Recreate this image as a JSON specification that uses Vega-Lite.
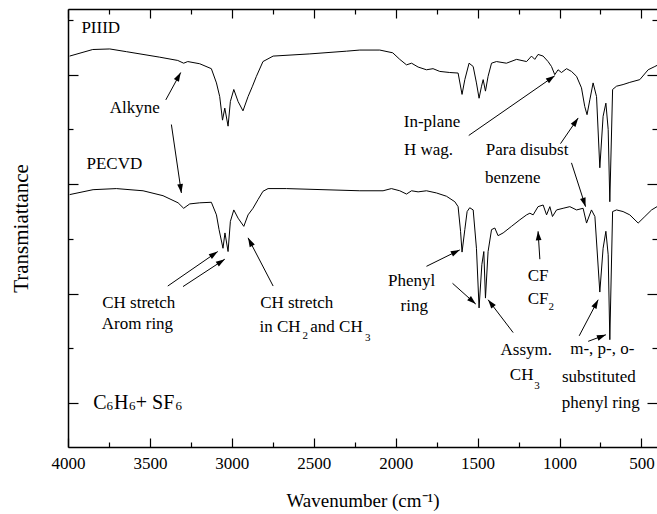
{
  "$schema": "https://vega.github.io/schema/vega-lite/v6.json",
  "width": 589,
  "height": 438,
  "autosize": {"type": "none"},
  "padding": {"left": 68, "top": 9, "right": 0, "bottom": 67},
  "config": {
    "view": {"stroke": null},
    "font": "Liberation Serif",
    "text": {"font": "Liberation Serif"},
    "axis": {"labelFont": "Liberation Serif", "titleFont": "Liberation Serif", "labelColor": "black", "titleColor": "black", "domainColor": "black", "tickColor": "black", "titleFontWeight": "normal", "grid": false, "domainWidth": 1.5, "tickWidth": 1.2}
  },
  "datasets": {
    "spectra": [
      {"wn":3990,"t":7.34,"s":"PIIID"},{"wn":3849,"t":7.46,"s":"PIIID"},{"wn":3745,"t":7.47,"s":"PIIID"},{"wn":3642,"t":7.42,"s":"PIIID"},{"wn":3440,"t":7.32,"s":"PIIID"},{"wn":3330,"t":7.26,"s":"PIIID"},{"wn":3294,"t":7.21,"s":"PIIID"},{"wn":3269,"t":7.24,"s":"PIIID"},{"wn":3196,"t":7.20,"s":"PIIID"},{"wn":3125,"t":7.11,"s":"PIIID"},{"wn":3094,"t":6.85,"s":"PIIID"},{"wn":3074,"t":6.60,"s":"PIIID"},{"wn":3057,"t":6.17,"s":"PIIID"},{"wn":3043,"t":6.39,"s":"PIIID"},{"wn":3023,"t":6.06,"s":"PIIID"},{"wn":3009,"t":6.51,"s":"PIIID"},{"wn":2988,"t":6.73,"s":"PIIID"},{"wn":2962,"t":6.51,"s":"PIIID"},{"wn":2932,"t":6.34,"s":"PIIID"},{"wn":2901,"t":6.60,"s":"PIIID"},{"wn":2874,"t":6.79,"s":"PIIID"},{"wn":2850,"t":6.97,"s":"PIIID"},{"wn":2810,"t":7.24,"s":"PIIID"},{"wn":2748,"t":7.34,"s":"PIIID"},{"wn":2524,"t":7.38,"s":"PIIID"},{"wn":2300,"t":7.43,"s":"PIIID"},{"wn":2219,"t":7.45,"s":"PIIID"},{"wn":2097,"t":7.45,"s":"PIIID"},{"wn":2018,"t":7.40,"s":"PIIID"},{"wn":1975,"t":7.28,"s":"PIIID"},{"wn":1934,"t":7.18,"s":"PIIID"},{"wn":1903,"t":7.21,"s":"PIIID"},{"wn":1863,"t":7.14,"s":"PIIID"},{"wn":1812,"t":7.09,"s":"PIIID"},{"wn":1772,"t":7.11,"s":"PIIID"},{"wn":1731,"t":7.06,"s":"PIIID"},{"wn":1670,"t":7.04,"s":"PIIID"},{"wn":1619,"t":7.03,"s":"PIIID"},{"wn":1595,"t":6.64,"s":"PIIID"},{"wn":1578,"t":6.91,"s":"PIIID"},{"wn":1552,"t":7.21,"s":"PIIID"},{"wn":1527,"t":7.15,"s":"PIIID"},{"wn":1507,"t":6.85,"s":"PIIID"},{"wn":1491,"t":6.57,"s":"PIIID"},{"wn":1476,"t":6.79,"s":"PIIID"},{"wn":1466,"t":6.91,"s":"PIIID"},{"wn":1452,"t":6.70,"s":"PIIID"},{"wn":1436,"t":6.97,"s":"PIIID"},{"wn":1415,"t":7.21,"s":"PIIID"},{"wn":1385,"t":7.24,"s":"PIIID"},{"wn":1324,"t":7.21,"s":"PIIID"},{"wn":1262,"t":7.28,"s":"PIIID"},{"wn":1201,"t":7.24,"s":"PIIID"},{"wn":1171,"t":7.34,"s":"PIIID"},{"wn":1151,"t":7.28,"s":"PIIID"},{"wn":1131,"t":7.37,"s":"PIIID"},{"wn":1100,"t":7.34,"s":"PIIID"},{"wn":1070,"t":7.24,"s":"PIIID"},{"wn":1049,"t":7.15,"s":"PIIID"},{"wn":1029,"t":7.00,"s":"PIIID"},{"wn":1009,"t":7.09,"s":"PIIID"},{"wn":988,"t":7.04,"s":"PIIID"},{"wn":957,"t":7.11,"s":"PIIID"},{"wn":927,"t":7.06,"s":"PIIID"},{"wn":896,"t":6.97,"s":"PIIID"},{"wn":866,"t":6.76,"s":"PIIID"},{"wn":846,"t":6.42,"s":"PIIID"},{"wn":832,"t":6.27,"s":"PIIID"},{"wn":815,"t":6.54,"s":"PIIID"},{"wn":795,"t":6.85,"s":"PIIID"},{"wn":774,"t":6.60,"s":"PIIID"},{"wn":754,"t":5.30,"s":"PIIID"},{"wn":734,"t":6.24,"s":"PIIID"},{"wn":717,"t":6.48,"s":"PIIID"},{"wn":703,"t":6.00,"s":"PIIID"},{"wn":693,"t":4.68,"s":"PIIID"},{"wn":676,"t":6.73,"s":"PIIID"},{"wn":652,"t":6.79,"s":"PIIID"},{"wn":612,"t":6.82,"s":"PIIID"},{"wn":571,"t":6.86,"s":"PIIID"},{"wn":510,"t":6.91,"s":"PIIID"},{"wn":459,"t":7.09,"s":"PIIID"},{"wn":418,"t":7.15,"s":"PIIID"},{"wn":405,"t":7.17,"s":"PIIID"},
      {"wn":3990,"t":4.81,"s":"PECVD"},{"wn":3847,"t":4.90,"s":"PECVD"},{"wn":3705,"t":4.92,"s":"PECVD"},{"wn":3542,"t":4.88,"s":"PECVD"},{"wn":3420,"t":4.79,"s":"PECVD"},{"wn":3328,"t":4.66,"s":"PECVD"},{"wn":3294,"t":4.56,"s":"PECVD"},{"wn":3257,"t":4.64,"s":"PECVD"},{"wn":3196,"t":4.66,"s":"PECVD"},{"wn":3125,"t":4.67,"s":"PECVD"},{"wn":3094,"t":4.44,"s":"PECVD"},{"wn":3078,"t":4.17,"s":"PECVD"},{"wn":3054,"t":3.83,"s":"PECVD"},{"wn":3042,"t":4.11,"s":"PECVD"},{"wn":3023,"t":3.77,"s":"PECVD"},{"wn":3009,"t":4.32,"s":"PECVD"},{"wn":2988,"t":4.53,"s":"PECVD"},{"wn":2962,"t":4.38,"s":"PECVD"},{"wn":2927,"t":4.23,"s":"PECVD"},{"wn":2901,"t":4.44,"s":"PECVD"},{"wn":2871,"t":4.56,"s":"PECVD"},{"wn":2840,"t":4.72,"s":"PECVD"},{"wn":2810,"t":4.87,"s":"PECVD"},{"wn":2779,"t":4.92,"s":"PECVD"},{"wn":2667,"t":4.92,"s":"PECVD"},{"wn":2219,"t":4.88,"s":"PECVD"},{"wn":2077,"t":4.88,"s":"PECVD"},{"wn":2026,"t":4.92,"s":"PECVD"},{"wn":1975,"t":4.88,"s":"PECVD"},{"wn":1934,"t":4.82,"s":"PECVD"},{"wn":1903,"t":4.88,"s":"PECVD"},{"wn":1863,"t":4.86,"s":"PECVD"},{"wn":1812,"t":4.88,"s":"PECVD"},{"wn":1751,"t":4.84,"s":"PECVD"},{"wn":1690,"t":4.78,"s":"PECVD"},{"wn":1639,"t":4.68,"s":"PECVD"},{"wn":1619,"t":4.59,"s":"PECVD"},{"wn":1604,"t":4.14,"s":"PECVD"},{"wn":1595,"t":3.76,"s":"PECVD"},{"wn":1578,"t":4.17,"s":"PECVD"},{"wn":1564,"t":4.50,"s":"PECVD"},{"wn":1548,"t":4.57,"s":"PECVD"},{"wn":1527,"t":4.53,"s":"PECVD"},{"wn":1507,"t":3.83,"s":"PECVD"},{"wn":1491,"t":2.74,"s":"PECVD"},{"wn":1474,"t":3.53,"s":"PECVD"},{"wn":1462,"t":3.77,"s":"PECVD"},{"wn":1452,"t":2.92,"s":"PECVD"},{"wn":1436,"t":3.77,"s":"PECVD"},{"wn":1415,"t":4.17,"s":"PECVD"},{"wn":1395,"t":4.20,"s":"PECVD"},{"wn":1375,"t":4.06,"s":"PECVD"},{"wn":1344,"t":4.11,"s":"PECVD"},{"wn":1293,"t":4.23,"s":"PECVD"},{"wn":1242,"t":4.35,"s":"PECVD"},{"wn":1201,"t":4.44,"s":"PECVD"},{"wn":1181,"t":4.47,"s":"PECVD"},{"wn":1161,"t":4.44,"s":"PECVD"},{"wn":1131,"t":4.59,"s":"PECVD"},{"wn":1100,"t":4.62,"s":"PECVD"},{"wn":1079,"t":4.44,"s":"PECVD"},{"wn":1059,"t":4.59,"s":"PECVD"},{"wn":1043,"t":4.41,"s":"PECVD"},{"wn":1018,"t":4.53,"s":"PECVD"},{"wn":978,"t":4.56,"s":"PECVD"},{"wn":937,"t":4.59,"s":"PECVD"},{"wn":896,"t":4.53,"s":"PECVD"},{"wn":856,"t":4.56,"s":"PECVD"},{"wn":835,"t":4.29,"s":"PECVD"},{"wn":805,"t":4.53,"s":"PECVD"},{"wn":784,"t":4.41,"s":"PECVD"},{"wn":754,"t":3.03,"s":"PECVD"},{"wn":734,"t":3.83,"s":"PECVD"},{"wn":717,"t":4.14,"s":"PECVD"},{"wn":703,"t":3.71,"s":"PECVD"},{"wn":693,"t":2.16,"s":"PECVD"},{"wn":676,"t":4.50,"s":"PECVD"},{"wn":652,"t":4.53,"s":"PECVD"},{"wn":612,"t":4.50,"s":"PECVD"},{"wn":571,"t":4.44,"s":"PECVD"},{"wn":520,"t":4.29,"s":"PECVD"},{"wn":479,"t":4.41,"s":"PECVD"},{"wn":438,"t":4.53,"s":"PECVD"},{"wn":405,"t":4.59,"s":"PECVD"}
    ],
    "arrows": [
      {"x1":3403,"y1":6.54,"x2":3312,"y2":7.04,"ang":28.8},
      {"x1":3369,"y1":6.09,"x2":3308,"y2":4.84,"ang":171.7},
      {"x1":3391,"y1":3.14,"x2":3086,"y2":3.77,"ang":55.8},
      {"x1":3298,"y1":3.13,"x2":3043,"y2":3.63,"ang":56.7},
      {"x1":2748,"y1":3.14,"x2":2901,"y2":4.02,"ang":-27.7},
      {"x1":1554,"y1":5.89,"x2":1029,"y2":6.98,"ang":55.1},
      {"x1":994,"y1":5.74,"x2":886,"y2":6.21,"ang":34.4},
      {"x1":927,"y1":5.39,"x2":841,"y2":4.59,"ang":162.1},
      {"x1":1812,"y1":3.50,"x2":1609,"y2":3.80,"ang":63.4},
      {"x1":1653,"y1":3.19,"x2":1511,"y2":2.81,"ang":131.6},
      {"x1":1283,"y1":2.29,"x2":1436,"y2":2.89,"ang":-37.4},
      {"x1":1120,"y1":3.63,"x2":1131,"y2":4.14,"ang":-3.5},
      {"x1":880,"y1":2.23,"x2":764,"y2":2.89,"ang":27.8},
      {"x1":825,"y1":2.13,"x2":717,"y2":2.25,"ang":69.3}
    ],
    "labels": [
      {"x":3800,"y":7.86,"text":"PIIID"},
      {"x":3593,"y":6.39,"text":"Alkyne"},
      {"x":3717,"y":5.37,"text":"PECVD"},
      {"x":3568,"y":2.83,"text":"CH stretch"},
      {"x":3576,"y":2.45,"text":"Arom ring"},
      {"x":2604,"y":2.83,"text":"CH stretch"},
      {"x":2706,"y":2.39,"text":"in CH"},
      {"x":2361,"y":2.39,"text":"and CH"},
      {"x":1778,"y":6.14,"text":"In-plane"},
      {"x":1800,"y":5.62,"text":"H wag."},
      {"x":1198,"y":5.62,"text":"Para disubst"},
      {"x":1285,"y":5.12,"text":"benzene"},
      {"x":1902,"y":3.23,"text":"Phenyl"},
      {"x":1887,"y":2.78,"text":"ring"},
      {"x":1131,"y":3.33,"text":"CF"},
      {"x":1131,"y":2.90,"text":"CF"},
      {"x":1203,"y":1.98,"text":"Assym."},
      {"x":1231,"y":1.52,"text":"CH"},
      {"x":739,"y":1.99,"text":"m-, p-, o-"},
      {"x":760,"y":1.48,"text":"substituted"},
      {"x":748,"y":1.00,"text":"phenyl ring"}
    ],
    "subs": [
      {"x":2552,"y":2.22,"text":"2"},
      {"x":2170,"y":2.20,"text":"3"},
      {"x":1050,"y":2.76,"text":"2"},
      {"x":1138,"y":1.31,"text":"3"}
    ],
    "formula": [
      {"x":3805,"y":1.01,"text":"C"},
      {"x":3675,"y":1.01,"text":"H"},
      {"x":3469,"y":1.01,"text":"+ SF"}
    ],
    "formulaSubs": [
      {"x":3745,"y":0.94,"text":"6"},
      {"x":3608,"y":0.94,"text":"6"},
      {"x":3324,"y":0.94,"text":"6"}
    ]
  },
  "layer": [
    {
      "data": {"name": "spectra"},
      "mark": {"type": "line", "color": "black", "strokeWidth": 1, "clip": true},
      "encoding": {
        "x": {"field": "wn", "type": "quantitative", "scale": {"domain": [4000, 405], "nice": false, "zero": false},
          "axis": {"orient": "bottom", "values": [4000,3750,3500,3250,3000,2750,2500,2250,2000,1750,1500,1250,1000,750,500], "format": "d", "labelExpr": "datum.value % 500 === 0 ? datum.label : ''", "tickSize": {"condition": {"test": "datum.value % 500 === 0", "value": -9}, "value": -5}, "labelPadding": 17, "labelFontSize": 17, "labelFlush": false, "labelOverlap": false, "title": "Wavenumber (cm⁻¹)", "titleFontSize": 19, "titlePadding": 16}},
        "y": {"field": "t", "type": "quantitative", "scale": {"domain": [0.2, 8.2], "nice": false, "zero": false},
          "axis": {"orient": "left", "values": [1,2,3,4,5,6,7,8], "labels": false, "tickSize": {"condition": {"test": "datum.value % 2 === 1", "value": -10}, "value": -5}, "title": "Transmiattance", "titleFontSize": 21, "titlePadding": 36}},
        "detail": {"field": "s"}
      }
    },
    {
      "data": {"name": "arrows"},
      "mark": {"type": "rule", "color": "black", "strokeWidth": 1},
      "encoding": {
        "x": {"field": "x1", "type": "quantitative", "scale": {"domain": [4000, 405], "nice": false, "zero": false},
          "axis": {"orient": "top", "values": [4000,3750,3500,3250,3000,2750,2500,2250,2000,1750,1500,1250,1000,750,500], "labels": false, "tickSize": {"condition": {"test": "datum.value % 500 === 0", "value": -9}, "value": -5}, "title": null}},
        "x2": {"field": "x2"},
        "y": {"field": "y1", "type": "quantitative", "scale": {"domain": [0.2, 8.2], "nice": false, "zero": false},
          "axis": {"orient": "right", "values": [1,2,3,4,5,6,7,8], "labels": false, "domain": false, "tickSize": {"condition": {"test": "datum.value % 2 === 1", "value": -10}, "value": -5}, "title": null}},
        "y2": {"field": "y2"}
      }
    },
    {
      "data": {"name": "arrows"},
      "mark": {"type": "point", "shape": "M0,0L0.32,1L-0.32,1Z", "filled": true, "color": "black", "size": 324, "opacity": 1},
      "encoding": {
        "x": {"field": "x2", "type": "quantitative", "scale": {"domain": [4000, 405], "nice": false, "zero": false}, "axis": null},
        "y": {"field": "y2", "type": "quantitative", "scale": {"domain": [0.2, 8.2], "nice": false, "zero": false}, "axis": null},
        "angle": {"field": "ang", "type": "quantitative", "scale": null}
      }
    },
    {
      "data": {"name": "labels"},
      "mark": {"type": "text", "font": "Liberation Serif", "fontSize": 17, "color": "black", "align": "center", "baseline": "middle"},
      "encoding": {
        "x": {"field": "x", "type": "quantitative", "scale": {"domain": [4000, 405], "nice": false, "zero": false}, "axis": null},
        "y": {"field": "y", "type": "quantitative", "scale": {"domain": [0.2, 8.2], "nice": false, "zero": false}, "axis": null},
        "text": {"field": "text"}
      }
    },
    {
      "data": {"name": "subs"},
      "mark": {"type": "text", "font": "Liberation Serif", "fontSize": 11, "color": "black", "align": "center", "baseline": "middle"},
      "encoding": {
        "x": {"field": "x", "type": "quantitative", "scale": {"domain": [4000, 405], "nice": false, "zero": false}, "axis": null},
        "y": {"field": "y", "type": "quantitative", "scale": {"domain": [0.2, 8.2], "nice": false, "zero": false}, "axis": null},
        "text": {"field": "text"}
      }
    },
    {
      "data": {"name": "formula"},
      "mark": {"type": "text", "font": "Liberation Serif", "fontSize": 20, "color": "black", "align": "center", "baseline": "middle"},
      "encoding": {
        "x": {"field": "x", "type": "quantitative", "scale": {"domain": [4000, 405], "nice": false, "zero": false}, "axis": null},
        "y": {"field": "y", "type": "quantitative", "scale": {"domain": [0.2, 8.2], "nice": false, "zero": false}, "axis": null},
        "text": {"field": "text"}
      }
    },
    {
      "data": {"name": "formulaSubs"},
      "mark": {"type": "text", "font": "Liberation Serif", "fontSize": 13, "color": "black", "align": "center", "baseline": "middle"},
      "encoding": {
        "x": {"field": "x", "type": "quantitative", "scale": {"domain": [4000, 405], "nice": false, "zero": false}, "axis": null},
        "y": {"field": "y", "type": "quantitative", "scale": {"domain": [0.2, 8.2], "nice": false, "zero": false}, "axis": null},
        "text": {"field": "text"}
      }
    }
  ],
  "resolve": {"axis": {"x": "independent", "y": "independent"}}
}
